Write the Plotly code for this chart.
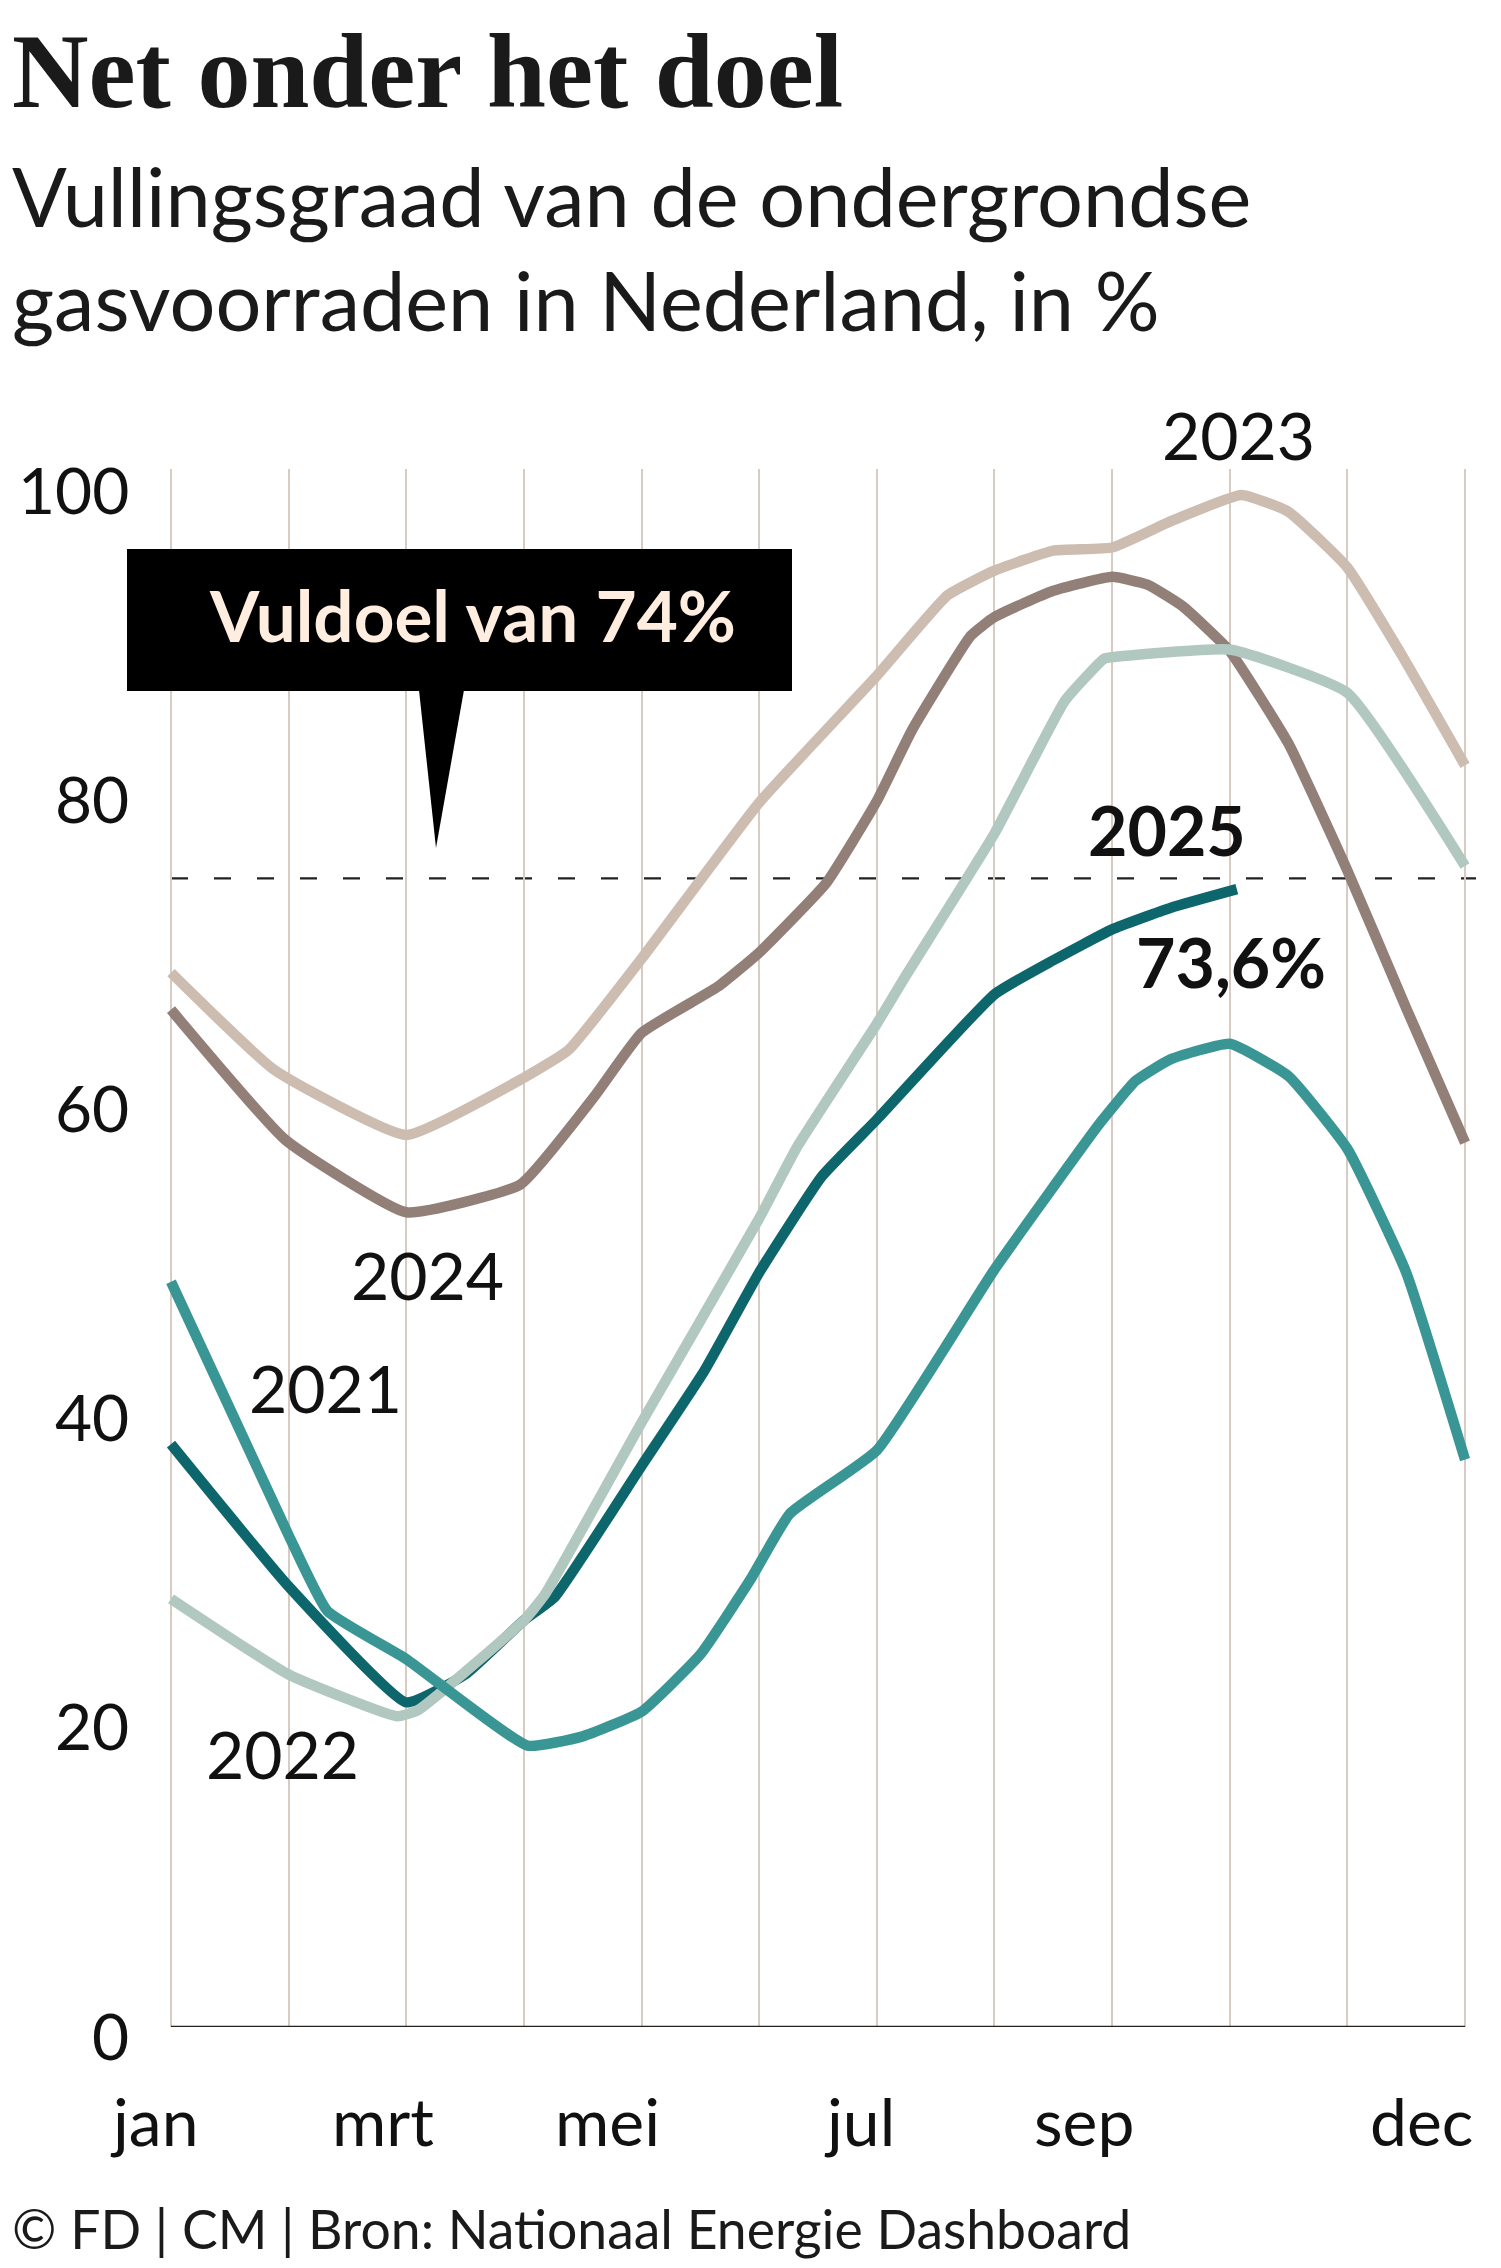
import plotly.graph_objects as go

# ---------------- data (month index: 0 = jan ... 11 = dec) ----------------
x2023 = [0, 0.88, 2.0, 3.0, 3.38, 4.0, 5.0, 6.0, 6.6, 7.0, 7.5, 8.0, 8.5, 9.1, 9.5, 10.0, 10.45, 11.0]
y2023 = [68.2, 61.9, 57.7, 61.4, 63.2, 69.1, 79.2, 87.4, 92.6, 94.2, 95.5, 95.7, 97.4, 99.1, 98.0, 94.4, 88.9, 81.6]

x2024 = [0, 0.97, 2.0, 2.97, 3.6, 4.0, 4.65, 5.0, 5.57, 6.0, 6.3, 6.8, 7.0, 7.5, 8.0, 8.3, 8.6, 9.0, 9.5, 10.0, 10.5, 11.0]
y2024 = [65.8, 57.4, 52.7, 54.5, 60.2, 64.3, 67.3, 69.5, 74.0, 79.3, 83.9, 90.0, 91.2, 92.9, 93.8, 93.3, 91.9, 89.0, 83.0, 74.8, 65.9, 57.2]

x2022 = [0, 1.0, 1.92, 2.1, 3.0, 3.18, 4.0, 5.0, 5.32, 6.0, 6.23, 7.0, 7.33, 7.6, 7.93, 8.0, 9.0, 10.0, 11.0]
y2022 = [27.7, 22.8, 20.1, 20.5, 26.3, 28.0, 39.1, 52.3, 56.9, 64.9, 67.8, 77.2, 82.0, 85.8, 88.5, 88.6, 89.1, 86.3, 75.1]

x2021 = [0, 1.0, 1.33, 2.0, 3.03, 3.5, 4.0, 4.5, 4.93, 5.26, 6.0, 7.0, 7.9, 8.2, 8.5, 9.0, 9.5, 10.0, 10.5, 11.0]
y2021 = [48.2, 31.8, 26.9, 23.8, 18.2, 18.8, 20.4, 24.1, 29.0, 33.2, 37.3, 49.0, 58.5, 61.2, 62.6, 63.6, 61.5, 56.8, 48.8, 36.7]

x2025 = [0, 1.0, 2.0, 2.5, 3.0, 3.26, 4.0, 4.53, 5.0, 5.53, 6.0, 7.0, 7.5, 8.0, 8.5, 9.06]
y2025 = [37.7, 28.5, 21.0, 22.8, 26.3, 27.8, 36.3, 42.4, 48.8, 55.0, 58.7, 66.8, 69.0, 71.0, 72.4, 73.6]

target_line = 74.3
month_labels = ["jan", "mrt", "mei", "jul", "sep", "dec"]
month_label_pos = [-0.145, 1.80, 3.71, 5.85, 7.76, 10.63]
y_ticks = [0, 20, 40, 60, 80, 100]

COL = {"2023": "#CDBDB1", "2024": "#927F77", "2025": "#0E666D",
       "2022": "#B1C8C1", "2021": "#3A9695"}

# ---------------- geometry helpers (page pixel coordinates) ----------------
BODY = 8                      # default page body margin of the html file
W, H = 1501 - BODY, 2268 - BODY
PL, PT, PW, PH = 166, 469, 1304, 1558   # plot area in page pixels
PXM = 117.64
XR = [-(171 - PL) / PXM, (PL + PW - 171) / PXM]
YR = [0, PH / 15.46]


def xp(px):
    return (px - PL) / PW


def yp(py):
    return (PT + PH - py) / PH


def mx(m):
    return 171 + m * PXM


fig = go.Figure()
series = [("2023", x2023, y2023), ("2024", x2024, y2024), ("2025", x2025, y2025),
          ("2022", x2022, y2022), ("2021", x2021, y2021)]
for name, xs, ys in series:
    fig.add_trace(go.Scatter(x=xs, y=ys, mode="lines", name=name,
                             line=dict(color=COL[name], width=10.5, shape="spline", smoothing=0.4),
                             hoverinfo="skip"))

SANS = "Lato, 'Open Sans', sans-serif"
ann = []


def txt(t, px, py, size, bold=False, color="#111", xanchor="center", family=SANS):
    ann.append(dict(text=("<b>%s</b>" % t) if bold else t, x=xp(px), y=yp(py),
                    xref="paper", yref="paper", showarrow=False, xanchor=xanchor,
                    yanchor="middle", font=dict(size=size, color=color, family=family)))


# title + subtitle
txt("<b>Net onder het doel</b>", 10, 71, 106, color="#1a1a1a", xanchor="left",
    family="'Liberation Serif', 'DejaVu Serif', serif")
txt("Vullingsgraad van de ondergrondse", 10, 195, 81, color="#1a1a1a", xanchor="left")
txt("gasvoorraden in Nederland, in %", 10, 299, 81, color="#1a1a1a", xanchor="left")

# series labels
txt("2023", 1238, 434, 66)
txt("2024", 427, 1274, 66)
txt("2021", 325, 1387, 66)
txt("2022", 282, 1753, 66)
txt("2025", 1167, 829, 68, bold=True)
txt("73,6%", 1231, 961, 68, bold=True)

# callout text
txt("Vuldoel van 74%", 472, 614, 71, bold=True, color="#FFEDE0")

# footer
txt("© FD | CM | Bron: Nationaal Energie Dashboard", 10, 2228, 53.5, color="#1a1a1a", xanchor="left")

# month labels
for lab, pos in zip(month_labels, month_label_pos):
    txt(lab, mx(pos), 2120, 66)

# y-axis labels (sit slightly below their value, as in the original)
for v in y_ticks:
    ann.append(dict(text=str(v), x=xp(131), y=v, xref="paper", yref="y", showarrow=False,
                    xanchor="right", yanchor="middle", yshift=-8,
                    font=dict(size=64, color="#111", family=SANS)))

shapes = [
    # target dashed line
    dict(type="line", xref="paper", yref="y", x0=xp(171), x1=xp(1476), y0=target_line, y1=target_line,
         line=dict(color="#222", width=2.2, dash="17px,26px"), layer="below"),
    # baseline
    dict(type="line", xref="x", yref="y", x0=0, x1=11, y0=0, y1=0,
         line=dict(color="#222", width=2.5), layer="above"),
    # callout box
    dict(type="rect", xref="paper", yref="paper", x0=xp(127), x1=xp(792), y0=yp(691), y1=yp(549),
         fillcolor="#000", line=dict(width=0), layer="above"),
    dict(type="path", xref="paper", yref="paper",
         path="M %f,%f L %f,%f L %f,%f Z" % (xp(419), yp(690), xp(464), yp(690), xp(436), yp(848)),
         fillcolor="#000", line=dict(width=0), layer="above"),
]

fig.update_layout(
    width=W, height=H,
    margin=dict(l=PL - BODY, r=W - (PL - BODY) - PW, t=PT - BODY, b=H - (PT - BODY) - PH,
                autoexpand=False),
    paper_bgcolor="white", plot_bgcolor="white",
    showlegend=False,
    annotations=ann, shapes=shapes,
    xaxis=dict(range=XR, tickvals=list(range(12)), showticklabels=False, showgrid=True,
               gridcolor="#D8CBC2", gridwidth=2, zeroline=False, showline=False, ticks="",
               automargin=False, fixedrange=True),
    yaxis=dict(range=YR, tickvals=y_ticks, showticklabels=False, showgrid=False, zeroline=False,
               showline=False, ticks="", automargin=False, fixedrange=True),
)

fig.write_html("out.html")
